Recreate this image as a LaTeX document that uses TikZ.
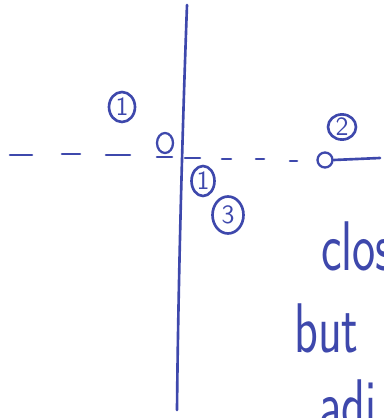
\documentclass[tikz,border=0pt]{standalone}
\usepackage{graphicx}
\usetikzlibrary{shapes.geometric}
\definecolor{pen}{RGB}{62,72,172}

\begin{document}
\begin{tikzpicture}[x=0.02cm,y=-0.02cm,color=pen,line width=1.5pt,line cap=round,
  num/.style={draw,ellipse,inner sep=0pt,font=\sffamily\fontsize{15}{15}\selectfont},
  dot/.style={draw,ellipse,inner sep=0pt,line width=1.3pt},
  word/.style={anchor=base west,inner sep=0pt,font=\sffamily\fontsize{40}{40}\selectfont}]
  \useasboundingbox (0,0) rectangle (383,418);
  \clip (0,0) rectangle (383,418);
  % axis
  \coordinate (top) at (187,5);
  \coordinate (bot) at (177,410);
  \draw (top) .. controls (182,140) and (178,300) .. (bot);
  % left dashes
  \draw (10,155) -- (32,155) (62,154) -- (80,154) (106,155) -- (130,155);
  \node[dot,minimum width=0.32cm,minimum height=0.4cm] (z0) at (165,143) {};
  \draw (157,157) -- (172,157);
  % right dashes
  \draw (185,158) -- (200,158) (222,159) -- (231,159) (256,159) -- (264,159) (290,161) -- (297,161);
  \node[dot,minimum width=0.3cm,minimum height=0.3cm] (z2) at (325,160) {};
  \draw (z2.east) -- (380,158);
  % labels
  \node[num,minimum width=0.52cm,minimum height=0.6cm] (n1) at (122,107) {1};
  \node[num,minimum width=0.56cm,minimum height=0.5cm] (n2) at (342,127) {2};
  \node[num,minimum width=0.46cm,minimum height=0.6cm] (n1b) at (203,181) {1};
  \node[num,minimum width=0.62cm,minimum height=0.74cm] (n3) at (228,215) {3};
  % text
  \node[word] (close) at (320,270) {\scalebox{0.7}[1]{clos}};
  \node[word] (but) at (293,352) {\scalebox{0.7}[1]{but}};
  \node[word] (adj) at (318,428) {\scalebox{0.7}[1]{adi}};
\end{tikzpicture}
\end{document}
